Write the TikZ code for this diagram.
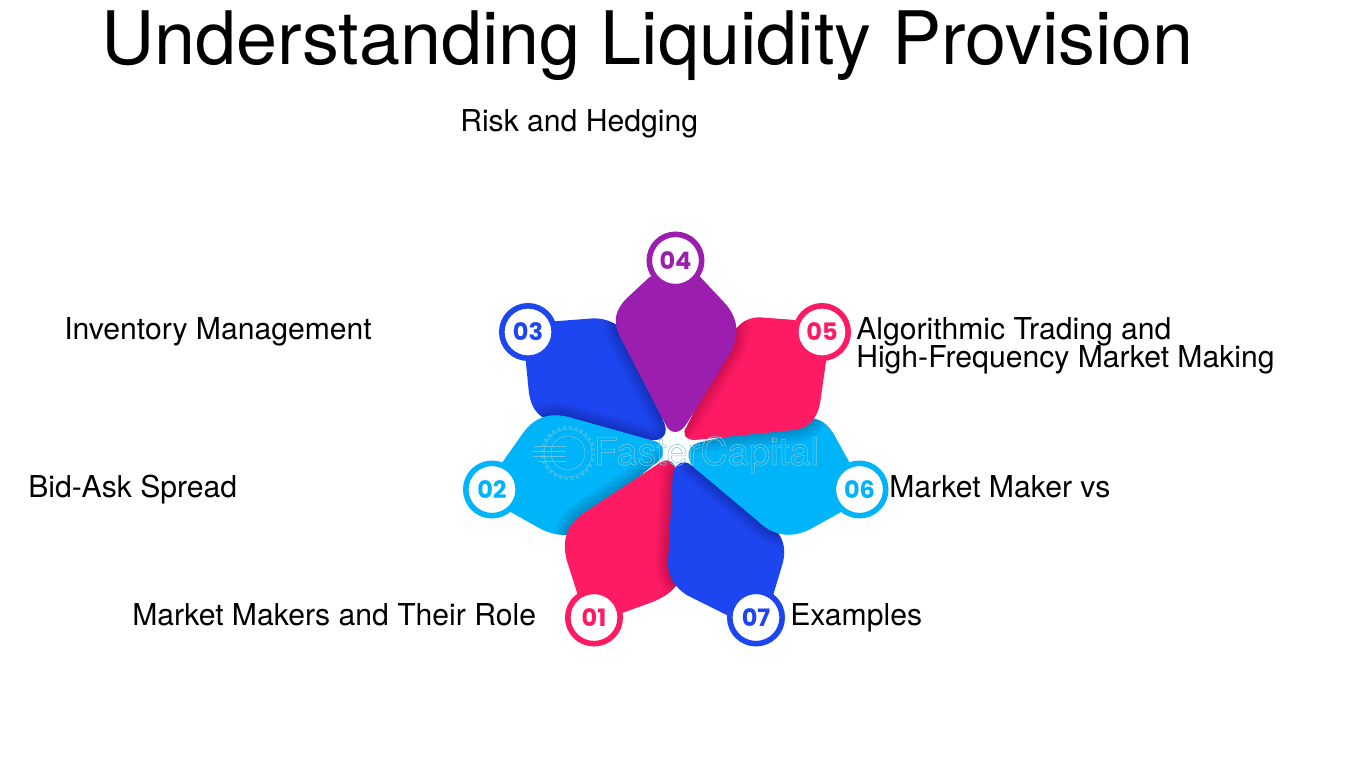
\documentclass[tikz,border=0pt]{standalone}
\usepackage{fontspec}
\setmainfont{TeX Gyre Heros}
\newfontfamily\numfont{Poppins}
\definecolor{pred}{RGB}{255,26,100}
\definecolor{pblue}{RGB}{30,70,240}
\definecolor{pcyan}{RGB}{0,180,250}
\definecolor{ppurple}{RGB}{155,30,175}
\definecolor{wmark}{RGB}{125,200,215}
\tikzset{
  lab/.style={anchor=base west,inner sep=0pt,font=\fontsize{22.6}{29}\selectfont,text=black},
  badge/.style={circle,draw=#1,fill=white,line width=4.2pt,minimum size=39.3pt,inner sep=0pt,text=#1,font=\numfont\bfseries\fontsize{18}{18}\selectfont},
  wline/.style={draw=wmark,line width=.45pt,opacity=.8},
}
\def\pThree{(225,400) -- (237,520) .. controls (243,555) and (255,575) .. (275,590) -- (600,660) .. controls (640,665) and (655,640) .. (643,610) -- (565,410) .. controls (540,330) and (490,295) .. (430,295) -- (300,305) -- cycle}
\def\pTwo{(155,730) -- (215,645) .. controls (245,600) and (290,570) .. (370,595) -- (620,665) .. controls (650,680) and (645,715) .. (610,735) -- (350,945) .. controls (320,945) and (295,940) .. (260,920) -- (180,875) -- cycle}
\def\pOne{(630,728) -- (400,880) .. controls (350,915) and (335,960) .. (350,1020) -- (385,1130) -- (500,1185) -- (610,1145) .. controls (645,1130) and (665,1115) .. (680,1095) -- (680,760) .. controls (675,725) and (655,712) .. (630,728) -- cycle}
\def\pSeven{(668,770) .. controls (670,730) and (705,710) .. (735,745) -- (960,915) .. controls (1000,945) and (1010,985) .. (998,1030) -- (968,1130) -- (830,1185) -- (710,1125) .. controls (665,1095) and (650,1060) .. (655,1010) -- cycle}
\def\pSix{(745,668) -- (1060,597) .. controls (1095,590) and (1125,600) .. (1150,640) -- (1200,730) -- (1175,875) -- (1085,925) .. controls (1020,960) and (965,945) .. (920,900) -- (735,745) .. controls (705,715) and (710,680) .. (745,668) -- cycle}
\def\pFive{(710,620) -- (830,375) .. controls (855,320) and (880,292) .. (930,292) -- (1035,300) -- (1130,410) -- (1113,530) .. controls (1105,600) and (1075,625) .. (1030,630) -- (735,660) .. controls (705,660) and (695,640) .. (710,620) -- cycle}
\def\pFour{(600,170) -- (750,170) -- (825,250) .. controls (865,295) and (870,345) .. (840,400) -- (712,608) .. controls (690,645) and (660,645) .. (645,610) -- (510,350) .. controls (488,305) and (495,270) .. (530,235) -- cycle}
\newcommand{\softshadow}[2]{%
  \begin{scope}
    \clip #1;
    \foreach \w in {2,4,...,20}{\draw[black,opacity=.018,line width=\w pt,line join=round] #2;}
  \end{scope}}
\begin{document}
\begin{tikzpicture}[x=.75pt,y=-.75pt]
\useasboundingbox (0,0) rectangle (1350,759);
\fill[white] (0,0) rectangle (1350,759);
\begin{scope}[shift={(450,220)},x=.25pt,y=-.25pt]
  \fill[pblue] \pThree;
  \softshadow{\pThree}{\pTwo}
  \fill[pcyan] \pTwo;
  \softshadow{\pTwo}{\pOne}
  \fill[pred] \pOne;
  \softshadow{\pOne}{\pSeven}
  \fill[pblue] \pSeven;
  \softshadow{\pSeven}{\pSix}
  \fill[pcyan] \pSix;
  \softshadow{\pSix}{\pFive}
  \fill[pred] \pFive;
  \softshadow{\pFive}{\pFour}
  \softshadow{\pThree}{\pFour}
  \fill[ppurple] \pFour;
\end{scope}
% watermark
\draw[wline] (568,453) circle (24);
\draw[wline,dash pattern=on 2.2pt off 2.2pt,line width=2pt,opacity=.45] (568,453) circle (26);
\draw[wline] (568,453) ++(-60:17) arc (-60:60:17);
\draw[wline] (568,453) ++(60:17) arc (60:300:17);
\foreach \yy/\xa in {446/534,451/533,456/533,461/538}{\draw[wline] (\xa,\yy) -- (566,\yy);}
\node[anchor=base west,inner sep=0pt,text=wmark,font=\fontsize{28.6}{30}\selectfont] (wm) at (594,465) {\special{pdf:code q 1 Tr 0.4 w}FasterCapital\special{pdf:code 0 Tr Q}};
\node[badge=ppurple] (n4) at (675.5,260.5) {04};
\node[badge=pblue] (n3) at (528,332) {03};
\node[badge=pred] (n5) at (822,332) {05};
\node[badge=pcyan] (n2) at (492,489.5) {02};
\node[badge=pcyan] (n6) at (859.5,489.5) {06};
\node[badge=pred] (n1) at (594,617.5) {01};
\node[badge=pblue] (n7) at (756,617.5) {07};
\node[anchor=base west,inner sep=0pt,font=\fontsize{55.3}{62}\selectfont] (title) at (101,65) {Understanding Liquidity Provision};
\node[lab] (risk) at (460,132) {Risk and Hedging};
\node[lab] (inv) at (64,340) {Inventory Management};
\node[lab] (algo) at (856,340) {Algorithmic Trading and};
\node[lab] (algo2) at (856,368) {High-Frequency Market Making};
\node[lab] (bid) at (28,497) {Bid-Ask Spread};
\node[lab] (mm) at (889,497) {Market Maker vs};
\node[lab] (role) at (132,625) {Market Makers and Their Role};
\node[lab] (ex) at (790,625) {Examples};
\end{tikzpicture}
\end{document}
